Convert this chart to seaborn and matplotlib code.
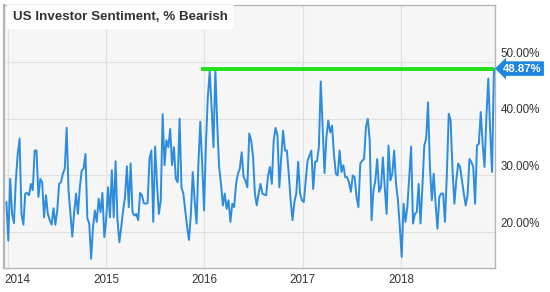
import matplotlib
matplotlib.use("Agg")
import matplotlib.pyplot as plt
import matplotlib.dates as mdates
import matplotlib.transforms as mtransforms
import seaborn as sns
import pandas as pd

# Weekly % bearish readings in six stretches
seg_1 = [25.3, 18.5, 29.4, 23.2, 21.6, 29.1, 33.8, 36.5, 23.2, 21.3, 26.8, 26.9,
         26.5, 28.5, 27.4, 34.4, 34.4, 26.2, 29.4, 28.8, 22.6, 26.5, 23.2, 22.1,
         21.3, 24.2, 21.3, 23.8, 28.5, 28.8, 30.3, 31.2, 38.4, 27.4, 23.2, 19.2,
         23.5, 26.8, 23.2, 27.9, 30.9, 31.2]
seg_2 = [33.8, 22.4, 21.5, 15.3, 20.9, 23.8, 21.8, 25.9, 23.5, 26.9, 19.1, 22.1,
         27.9, 22.6, 30.9, 22.6, 32.5, 22.1, 18.2, 20.9, 23.8, 26.2, 31.6, 24.4,
         32.1, 23.5, 22.9, 23.2, 22.1, 26.9, 26.5, 25.1, 25.0, 25.1, 32.9, 34.4,
         21.8, 35.1, 28.5, 23.2, 25.6, 40.8, 31.8, 36.2]
seg_3 = [35.0, 38.2, 31.8, 35.0, 29.4, 28.8, 40.0, 27.9, 26.8, 23.8, 20.9, 18.6,
         23.2, 30.6, 25.6, 21.5, 32.1, 39.5, 32.1, 23.8, 35.6, 43.8, 48.4, 42.1,
         35.0, 48.7, 39.1, 31.5, 28.5, 24.7, 26.8, 24.1, 25.6, 21.8, 25.0, 24.4,
         28.5, 30.3, 31.2, 34.1, 29.7, 29.1, 27.9, 37.4]
seg_4 = [36.2, 33.5, 26.8, 24.7, 26.8, 28.5, 26.8, 26.6, 26.5, 30.0, 31.5, 28.5,
         36.2, 38.4, 37.1, 27.9, 33.2, 37.9, 34.4, 34.4, 30.3, 25.6, 22.1, 25.3,
         26.8, 32.4, 26.8, 25.6, 25.3, 29.1, 32.6, 33.5, 34.4, 27.6, 32.4, 32.5,
         35.0, 46.6, 38.5, 30.4, 36.8, 39.7, 37.6, 38.8]
seg_5 = [33.8, 30.3, 30.0, 34.4, 30.6, 31.8, 29.7, 29.7, 28.8, 27.1, 30.0, 29.7,
         26.2, 24.4, 32.1, 32.6, 32.9, 38.5, 40.0, 36.2, 22.1, 27.4, 29.1, 32.9,
         27.1, 27.9, 33.2, 27.9, 23.2, 35.3, 29.1, 30.3, 34.4, 28.5, 25.6, 20.9,
         15.6, 25.0, 21.8, 24.4, 29.7, 35.1, 21.5, 23.2]
seg_6 = [23.5, 28.5, 21.5, 27.9, 35.3, 36.5, 42.9, 31.5, 25.6, 30.3, 25.0, 20.6,
         26.2, 26.8, 26.8, 21.8, 30.3, 40.9, 39.7, 30.9, 25.0, 29.1, 32.1, 31.5,
         29.1, 26.8, 24.7, 26.5, 32.9, 32.4, 31.5, 25.0, 35.3, 35.6, 41.2, 35.6,
         31.5, 40.3, 47.1, 38.0, 30.6, 48.87]

bearish = seg_1 + seg_2 + seg_3 + seg_4 + seg_5 + seg_6
last_date = "2018-12-13"
latest = 48.87
marker_start = "2015-12-20"
y_ticks = [20, 30, 40, 50]
year_ticks = ["2014", "2015", "2016", "2017", "2018"]

df = pd.DataFrame({
    "date": pd.date_range(end=last_date, periods=len(bearish), freq="7D"),
    "bearish": bearish,
})

sns.set_theme(style="white")
plt.rcParams["font.family"] = ["Liberation Sans", "DejaVu Sans"]

fig = plt.figure(figsize=(5.5, 2.92), dpi=100)
ax = fig.add_axes([4 / 550, 1 - 268 / 292, 491 / 550, 263 / 292])
ax.set_facecolor("#f6f6f6")

sns.lineplot(data=df, x="date", y="bearish", ax=ax, color="#2b8ce0",
             linewidth=1.4, zorder=3)

# green marker at the latest level
ax.plot([pd.Timestamp(marker_start), df["date"].iloc[-1]], [latest, latest],
        color="#22e01a", linewidth=2.8, zorder=4, solid_capstyle="butt")

ax.set_xlim(pd.Timestamp("2013-12-17"), pd.Timestamp("2018-12-17"))
ax.set_ylim(13.65, 60.1)

ax.set_yticks(y_ticks)
ax.set_yticklabels([f"{v:.2f}%" for v in y_ticks])
ax.yaxis.tick_right()
ax.set_xticks([pd.Timestamp(y + "-01-01") for y in year_ticks])
ax.xaxis.set_major_formatter(mdates.DateFormatter("%Y"))
ax.tick_params(length=0, labelsize=8.4, labelcolor="#333333")
ax.tick_params(axis="y", pad=4)
ax.tick_params(axis="x", pad=4)
for lab in ax.get_yticklabels():
    lab.set_transform(lab.get_transform() +
                      mtransforms.ScaledTranslation(0, 10 / 100, fig.dpi_scale_trans))
ax.get_xticklabels()[0].set_horizontalalignment("left")
ax.get_xticklabels()[0].set_transform(
    ax.get_xticklabels()[0].get_transform() +
    mtransforms.ScaledTranslation(-4 / 100, 0, fig.dpi_scale_trans))

ax.grid(True, color="#e0e0e0", linewidth=0.8)
ax.set_axisbelow(True)
for side in ax.spines.values():
    side.set_color("#b5b5b5")
    side.set_linewidth(1.0)
ax.spines["left"].set_linewidth(1.6)
ax.set_xlabel("")
ax.set_ylabel("")

ax.text(0.018, 0.955, "US Investor Sentiment, % Bearish", transform=ax.transAxes,
        fontsize=9.6, fontweight="bold", color="#333333", va="center", ha="left",
        zorder=6, bbox=dict(boxstyle="square,pad=0.45", facecolor="white",
                            edgecolor="none"))

trans = mtransforms.blended_transform_factory(ax.transAxes, ax.transData)
ax.text(1.0, latest, f"{latest:.2f}%", transform=trans + mtransforms.ScaledTranslation(
            8 / 100, 0, fig.dpi_scale_trans),
        fontsize=8.2, fontweight="bold", color="white", va="center", ha="left",
        clip_on=False, zorder=7,
        bbox=dict(boxstyle="larrow,pad=0.2", facecolor="#1f86e0",
                  edgecolor="none"))

fig.savefig("out.png", dpi=100)
